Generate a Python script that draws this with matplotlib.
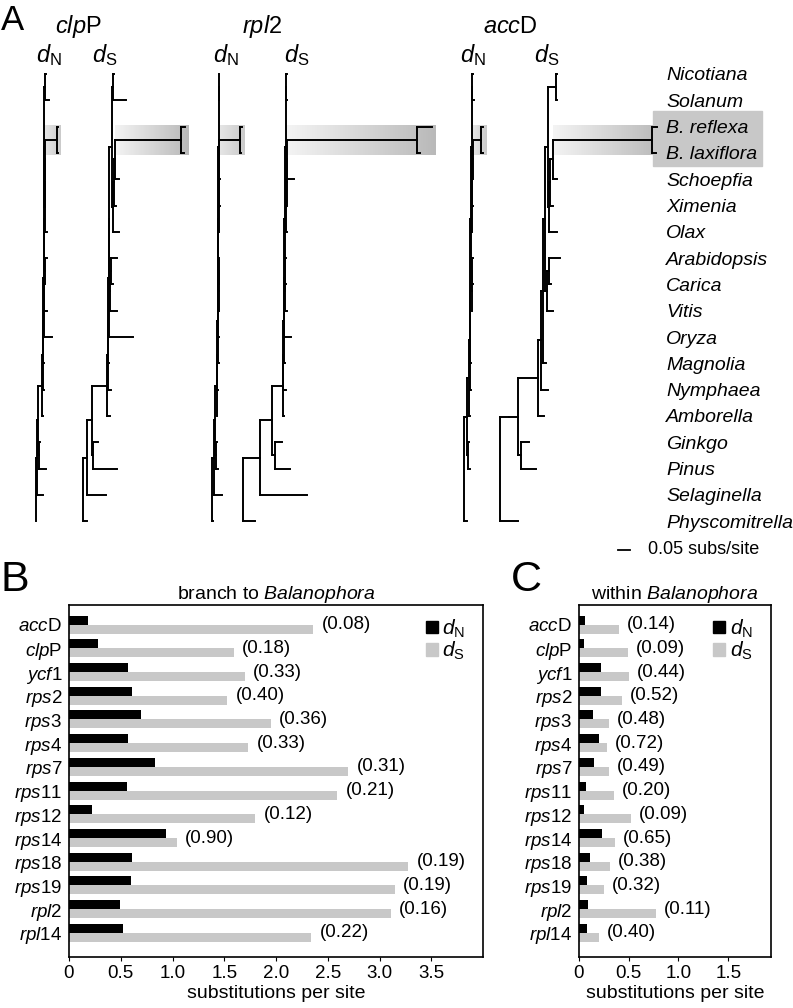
import matplotlib
matplotlib.use('Agg')
import matplotlib.pyplot as plt
import numpy as np
from matplotlib.colors import LinearSegmentedColormap
from matplotlib.patches import Patch, Rectangle

plt.rcParams['font.family'] = ['Liberation Sans', 'DejaVu Sans']
plt.rcParams['mathtext.fontset'] = 'custom'
plt.rcParams['mathtext.rm'] = 'Liberation Sans'
plt.rcParams['mathtext.it'] = 'Liberation Sans:italic'
plt.rcParams['mathtext.bf'] = 'Liberation Sans:bold'

# ---------------- panel A : phylograms ----------------
taxa = ['Nicotiana', 'Solanum', 'B. reflexa', 'B. laxiflora', 'Schoepfia', 'Ximenia', 'Olax',
        'Arabidopsis', 'Carica', 'Vitis', 'Oryza', 'Magnolia', 'Nymphaea', 'Amborella',
        'Ginkgo', 'Pinus', 'Selaginella', 'Physcomitrella']

children = {
    'root': ['vasc', 'Physcomitrella'],
    'vasc': ['seed', 'Selaginella'],
    'seed': ['angio', 'gym'],
    'gym': ['Ginkgo', 'Pinus'],
    'angio': ['a2', 'Amborella'],
    'a2': ['a3', 'Nymphaea'],
    'a3': ['a4', 'Magnolia'],
    'a4': ['eud', 'Oryza'],
    'eud': ['sup', 'ros'],
    'sup': ['ast', 'sant'],
    'ast': ['Nicotiana', 'Solanum'],
    'sant': ['s2', 'Olax'],
    's2': ['s3', 'Ximenia'],
    's3': ['bal', 'Schoepfia'],
    'bal': ['B. reflexa', 'B. laxiflora'],
    'ros': ['r2', 'Vitis'],
    'r2': ['Arabidopsis', 'Carica'],
}

# branch lengths (subs/site), same order as `branches`; None = gene missing
branches = ['vasc', 'Physcomitrella', 'seed', 'Selaginella', 'angio', 'gym', 'Ginkgo', 'Pinus',
            'a2', 'Amborella', 'a3', 'Nymphaea', 'a4', 'Magnolia', 'eud', 'Oryza',
            'sup', 'ros', 'ast', 'sant', 'Nicotiana', 'Solanum', 's2', 'Olax',
            's3', 'Ximenia', 'bal', 'Schoepfia', 'B. reflexa', 'B. laxiflora',
            'r2', 'Vitis', 'Arabidopsis', 'Carica']

clpP_dN = [.004, .002, .004, .025, .017, .004, .004, .029,
           .004, .004, .002, .004, .002, .004, .001, .033,
           .001, .001, .002, .001, .004, .017, .001, .009,
           .001, .002, .049, .001, .004, .004,
           .002, .010, .008, .002]
clpP_dS = [.017, .017, .021, .079, .063, .004, .021, .100,
           .002, .013, .002, .015, .002, .004, .002, .102,
           .013, .004, .004, .004, .004, .054, .004, .025,
           .002, .008, .277, .019, .017, .013,
           .004, .029, .025, .008]
rpl2_dN = [.008, .004, .004, .033, .008, .004, .004, .008,
           .002, .002, .002, .004, .002, .004, .001, .004,
           .001, .001, .001, .001, .001, .002, .0005, .002,
           .0005, .002, .086, .002, .008, .004,
           .001, .003, .002, .002]
rpl2_dS = [.071, .050, .050, .196, .046, .013, .029, .063,
           .001, .002, .001, .011, .002, .004, .002, .029,
           .006, .002, .002, .002, .002, .004, .001, .004,
           .001, .003, .542, .029, .063, .013,
           .002, .008, .004, .004]
accD_dN = [.006, .013, .006, None, .008, .004, .004, .008,
           .004, .004, .002, .004, .002, .002, .002, None,
           .002, .002, .002, .002, .004, .006, .001, .001,
           .0005, .001, .034, .002, .008, .008,
           .002, .003, .004, .002]
accD_dS = [.038, .075, .038, None, .083, .013, .033, .063,
           .013, .025, .008, .029, .004, .013, .004, None,
           .013, .008, .033, .004, .002, .004, .004, .033,
           .013, .013, .413, .017, .021, .017,
           .008, .025, .046, .008]

# ---------------- panels B, C : bars ----------------
genes = [r'$\it{acc}$D', r'$\it{clp}$P', r'$\it{ycf}$1', r'$\it{rps}$2', r'$\it{rps}$3',
         r'$\it{rps}$4', r'$\it{rps}$7', r'$\it{rps}$11', r'$\it{rps}$12', r'$\it{rps}$14',
         r'$\it{rps}$18', r'$\it{rps}$19', r'$\it{rpl}$2', r'$\it{rpl}$14']

branch_dN = [0.18, 0.28, 0.57, 0.61, 0.70, 0.57, 0.83, 0.56, 0.22, 0.94, 0.61, 0.60, 0.49, 0.52]
branch_dS = [2.36, 1.59, 1.70, 1.53, 1.95, 1.73, 2.70, 2.59, 1.80, 1.04, 3.28, 3.15, 3.11, 2.34]
branch_ratio = [0.08, 0.18, 0.33, 0.40, 0.36, 0.33, 0.31, 0.21, 0.12, 0.90, 0.19, 0.19, 0.16, 0.22]

within_dN = [0.06, 0.05, 0.22, 0.22, 0.14, 0.20, 0.15, 0.07, 0.05, 0.23, 0.11, 0.08, 0.09, 0.08]
within_dS = [0.40, 0.49, 0.50, 0.43, 0.30, 0.28, 0.30, 0.35, 0.52, 0.36, 0.31, 0.25, 0.77, 0.20]
within_ratio = [0.14, 0.09, 0.44, 0.52, 0.48, 0.72, 0.49, 0.20, 0.09, 0.65, 0.38, 0.32, 0.11, 0.40]

W, H = 793, 1008
fig = plt.figure(figsize=(W / 100, H / 100), dpi=100)

axA = fig.add_axes([0, 1 - 560 / H, 1, 560 / H])
PX = 240.0          # pixels per subs/site
tip_y = {t: 74 + 26.3 * i for i, t in enumerate(taxa)}


def walk(node, x0, bl, segs, pos):
    ln = bl.get(node, 0.0)
    if ln is None:
        return None
    x = x0 + ln
    if node in tip_y:
        y = tip_y[node]
    else:
        ys = [walk(c, x, bl, segs, pos) for c in children[node]]
        ys = [v for v in ys if v is not None]
        segs.append(([x, x], [min(ys), max(ys)]))
        y = (min(ys) + max(ys)) / 2
    segs.append(([x0, x], [y, y]))
    pos[node] = (x, y)
    return y


trees = [('clpP', 'N', clpP_dN, 36, 49), ('clpP', 'S', clpP_dS, 83, 105),
         ('rpl2', 'N', rpl2_dN, 212, 226), ('rpl2', 'S', rpl2_dS, 243, 297),
         ('accD', 'N', accD_dN, 464, 473), ('accD', 'S', accD_dS, 500, 547)]

for gene, kind, lengths, x_root, x_lab in trees:
    bl = dict(zip(branches, lengths))
    segs, pos = [], {}
    walk('root', 0.0, bl, segs, pos)
    for xs, ys in segs:
        axA.plot([x_root + PX * v for v in xs], ys, color='black', lw=1.4,
                 solid_capstyle='projecting')
    # shaded box behind the Balanophora branch
    x1 = x_root + PX * pos['s3'][0]
    x2 = x_root + PX * max(pos['B. reflexa'][0], pos['B. laxiflora'][0]) + 3
    yb = pos['bal'][1]
    cols = ['#f4f4f4', '#b9b9b9'] if kind == 'S' else ['#e6e6e6', '#cbcbcb']
    cmap = LinearSegmentedColormap.from_list('g', cols)
    axA.imshow(np.linspace(0, 1, 256)[None, :], extent=[x1, x2, yb + 15, yb - 15],
               cmap=cmap, aspect='auto', zorder=0)
    axA.text(x_lab, 55, r'$\it{d}_{\rm %s}$' % kind, ha='center', va='center', fontsize=17)

axA.text(78, 27, r'$\it{clp}$P', ha='center', va='center', fontsize=17)
axA.text(262, 27, r'$\it{rpl}$2', ha='center', va='center', fontsize=17)
axA.text(510, 27, r'$\it{acc}$D', ha='center', va='center', fontsize=17)

axA.add_patch(Rectangle((653, 111), 109, 55, color='#c8c8c8', zorder=0))
for t in taxa:
    axA.text(666, tip_y[t] + 2, t, style='italic', ha='left', va='center', fontsize=14)

axA.plot([618, 618 + PX * 0.05], [550, 550], color='black', lw=1.3)
axA.text(648, 550, '0.05 subs/site', ha='left', va='center', fontsize=13)
axA.text(1, 21, 'A', ha='left', va='center', fontsize=25)

axA.set_xlim(0, W)
axA.set_ylim(560, 0)
axA.axis('off')


def bar_panel(ax, dn, ds, ratios, xmax, xticks, title):
    y = np.arange(len(genes))
    ax.barh(y - 0.19, dn, height=0.38, color='black')
    ax.barh(y + 0.19, ds, height=0.38, color='#c8c8c8')
    for yi, s, r in zip(y, ds, ratios):
        ax.annotate('(%.2f)' % r, xy=(s, yi), xytext=(6, 0), textcoords='offset points',
                    ha='left', va='center', fontsize=13.5)
    ax.set_ylim(len(genes) + 0.02, -0.83)
    ax.set_xlim(0, xmax)
    ax.set_yticks(y)
    ax.set_yticklabels(genes, fontsize=13.5)
    ax.tick_params(axis='y', length=0, pad=5)
    ax.set_xticks(xticks)
    ax.set_xticklabels(['0' if v == 0 else '%.1f' % v for v in xticks])
    ax.tick_params(axis='x', length=3, pad=3, labelsize=13.5, direction='out')
    ax.set_xlabel('substitutions per site', fontsize=14, labelpad=2)
    ax.set_title(title, fontsize=14, pad=3)
    for sp in ax.spines.values():
        sp.set_linewidth(1.2)
    handles = [Patch(color='black', label=r'$\it{d}_{\rm N}$'),
               Patch(color='#c8c8c8', label=r'$\it{d}_{\rm S}$')]
    return handles


axB = fig.add_axes([69 / W, 1 - 957 / H, 414 / W, 352 / H])
hB = bar_panel(axB, branch_dN, branch_dS, branch_ratio, 4.0, [0, 0.5, 1.0, 1.5, 2.0, 2.5, 3.0, 3.5],
               r'branch to $\it{Balanophora}$')
axB.legend(handles=hB, loc='upper left', bbox_to_anchor=(0.862, 0.965), frameon=False,
           fontsize=15, handlelength=0.58, handleheight=0.55, handletextpad=0.2,
           labelspacing=0.0, borderpad=0, borderaxespad=0)

axC = fig.add_axes([579 / W, 1 - 957 / H, 192 / W, 352 / H])
hC = bar_panel(axC, within_dN, within_dS, within_ratio, 1.93, [0, 0.5, 1.0, 1.5],
               r'within $\it{Balanophora}$')
axC.legend(handles=hC, loc='upper left', bbox_to_anchor=(0.70, 0.965), frameon=False,
           fontsize=15, handlelength=0.58, handleheight=0.55, handletextpad=0.2,
           labelspacing=0.0, borderpad=0, borderaxespad=0)

fig.text(1 / W, 1 - 580 / H, 'B', ha='left', va='center', fontsize=31)
fig.text(511 / W, 1 - 580 / H, 'C', ha='left', va='center', fontsize=31)

fig.savefig('out.png', dpi=100)
